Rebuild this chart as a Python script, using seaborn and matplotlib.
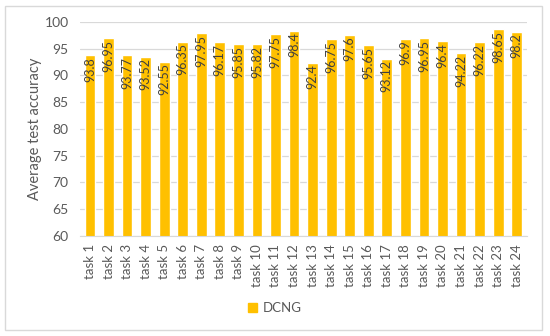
import matplotlib
matplotlib.use("Agg")
import matplotlib.pyplot as plt
import matplotlib.patches as mpatches
import seaborn as sns
import pandas as pd

# data
tasks = ["task %d" % i for i in range(1, 25)]
accuracy = [93.8, 96.95, 93.77, 93.52, 92.55, 96.35, 97.95, 96.17, 95.85, 95.82,
            97.75, 98.4, 92.4, 96.75, 97.6, 95.65, 93.12, 96.9, 96.95, 96.4,
            94.22, 96.22, 98.65, 98.2]
value_labels = ["93.8", "96.95", "93.77", "93.52", "92.55", "96.35", "97.95", "96.17",
                "95.85", "95.82", "97.75", "98.4", "92.4", "96.75", "97.6", "95.65",
                "93.12", "96.9", "96.95", "96.4", "94.22", "96.22", "98.65", "98.2"]
series_name = "DCNG"

df = pd.DataFrame({"task": tasks, "acc": accuracy})

sns.set_style("white")
plt.rcParams["font.family"] = ["Lato", "DejaVu Sans"]

bar_color = "#FFC000"
text_gray = "#595959"
grid_gray = "#D9D9D9"

fig = plt.figure(figsize=(5.5, 3.36), dpi=100)
ax = fig.add_axes([0.145, 0.2976, 0.813, 0.637])

sns.barplot(data=df, x="task", y="acc", color=bar_color, width=0.58,
            saturation=1, ax=ax, label=series_name, zorder=2)

ax.set_ylim(60, 100)
ax.set_yticks(range(60, 101, 5))
ax.set_xlim(-0.55, len(tasks) - 0.45)
ax.yaxis.grid(True, color=grid_gray, linewidth=0.9, zorder=0)
ax.set_axisbelow(True)
for s in ["top", "right", "left"]:
    ax.spines[s].set_visible(False)
ax.spines["bottom"].set_color(grid_gray)
ax.tick_params(axis="both", length=0, colors=text_gray)
ax.tick_params(axis="y", labelsize=10, pad=8)
ax.tick_params(axis="x", labelsize=9.5, rotation=90, pad=6)
ax.set_xlabel("")
ax.set_ylabel("Average test accuracy", color=text_gray, fontsize=10.5, labelpad=2)

# value labels, inside end of bars
for i, (v, lab) in enumerate(zip(accuracy, value_labels)):
    ax.text(i, v - 0.3, lab, rotation=90, ha="center", va="top",
            fontsize=9, color="#404040", zorder=3)

ax.legend(handles=[mpatches.Patch(color=bar_color, label=series_name)],
          loc="center", bbox_to_anchor=(0.5, 0.083), bbox_transform=fig.transFigure,
          frameon=False, fontsize=9.5, labelcolor=text_gray, handlelength=0.7,
          handleheight=0.7, handletextpad=0.4)

fig.patches.append(mpatches.Rectangle((5 / 550, 6 / 336), 537 / 550, 324 / 336,
                                      transform=fig.transFigure, fill=False,
                                      edgecolor=grid_gray, linewidth=1))

fig.savefig("out.png", dpi=100)
